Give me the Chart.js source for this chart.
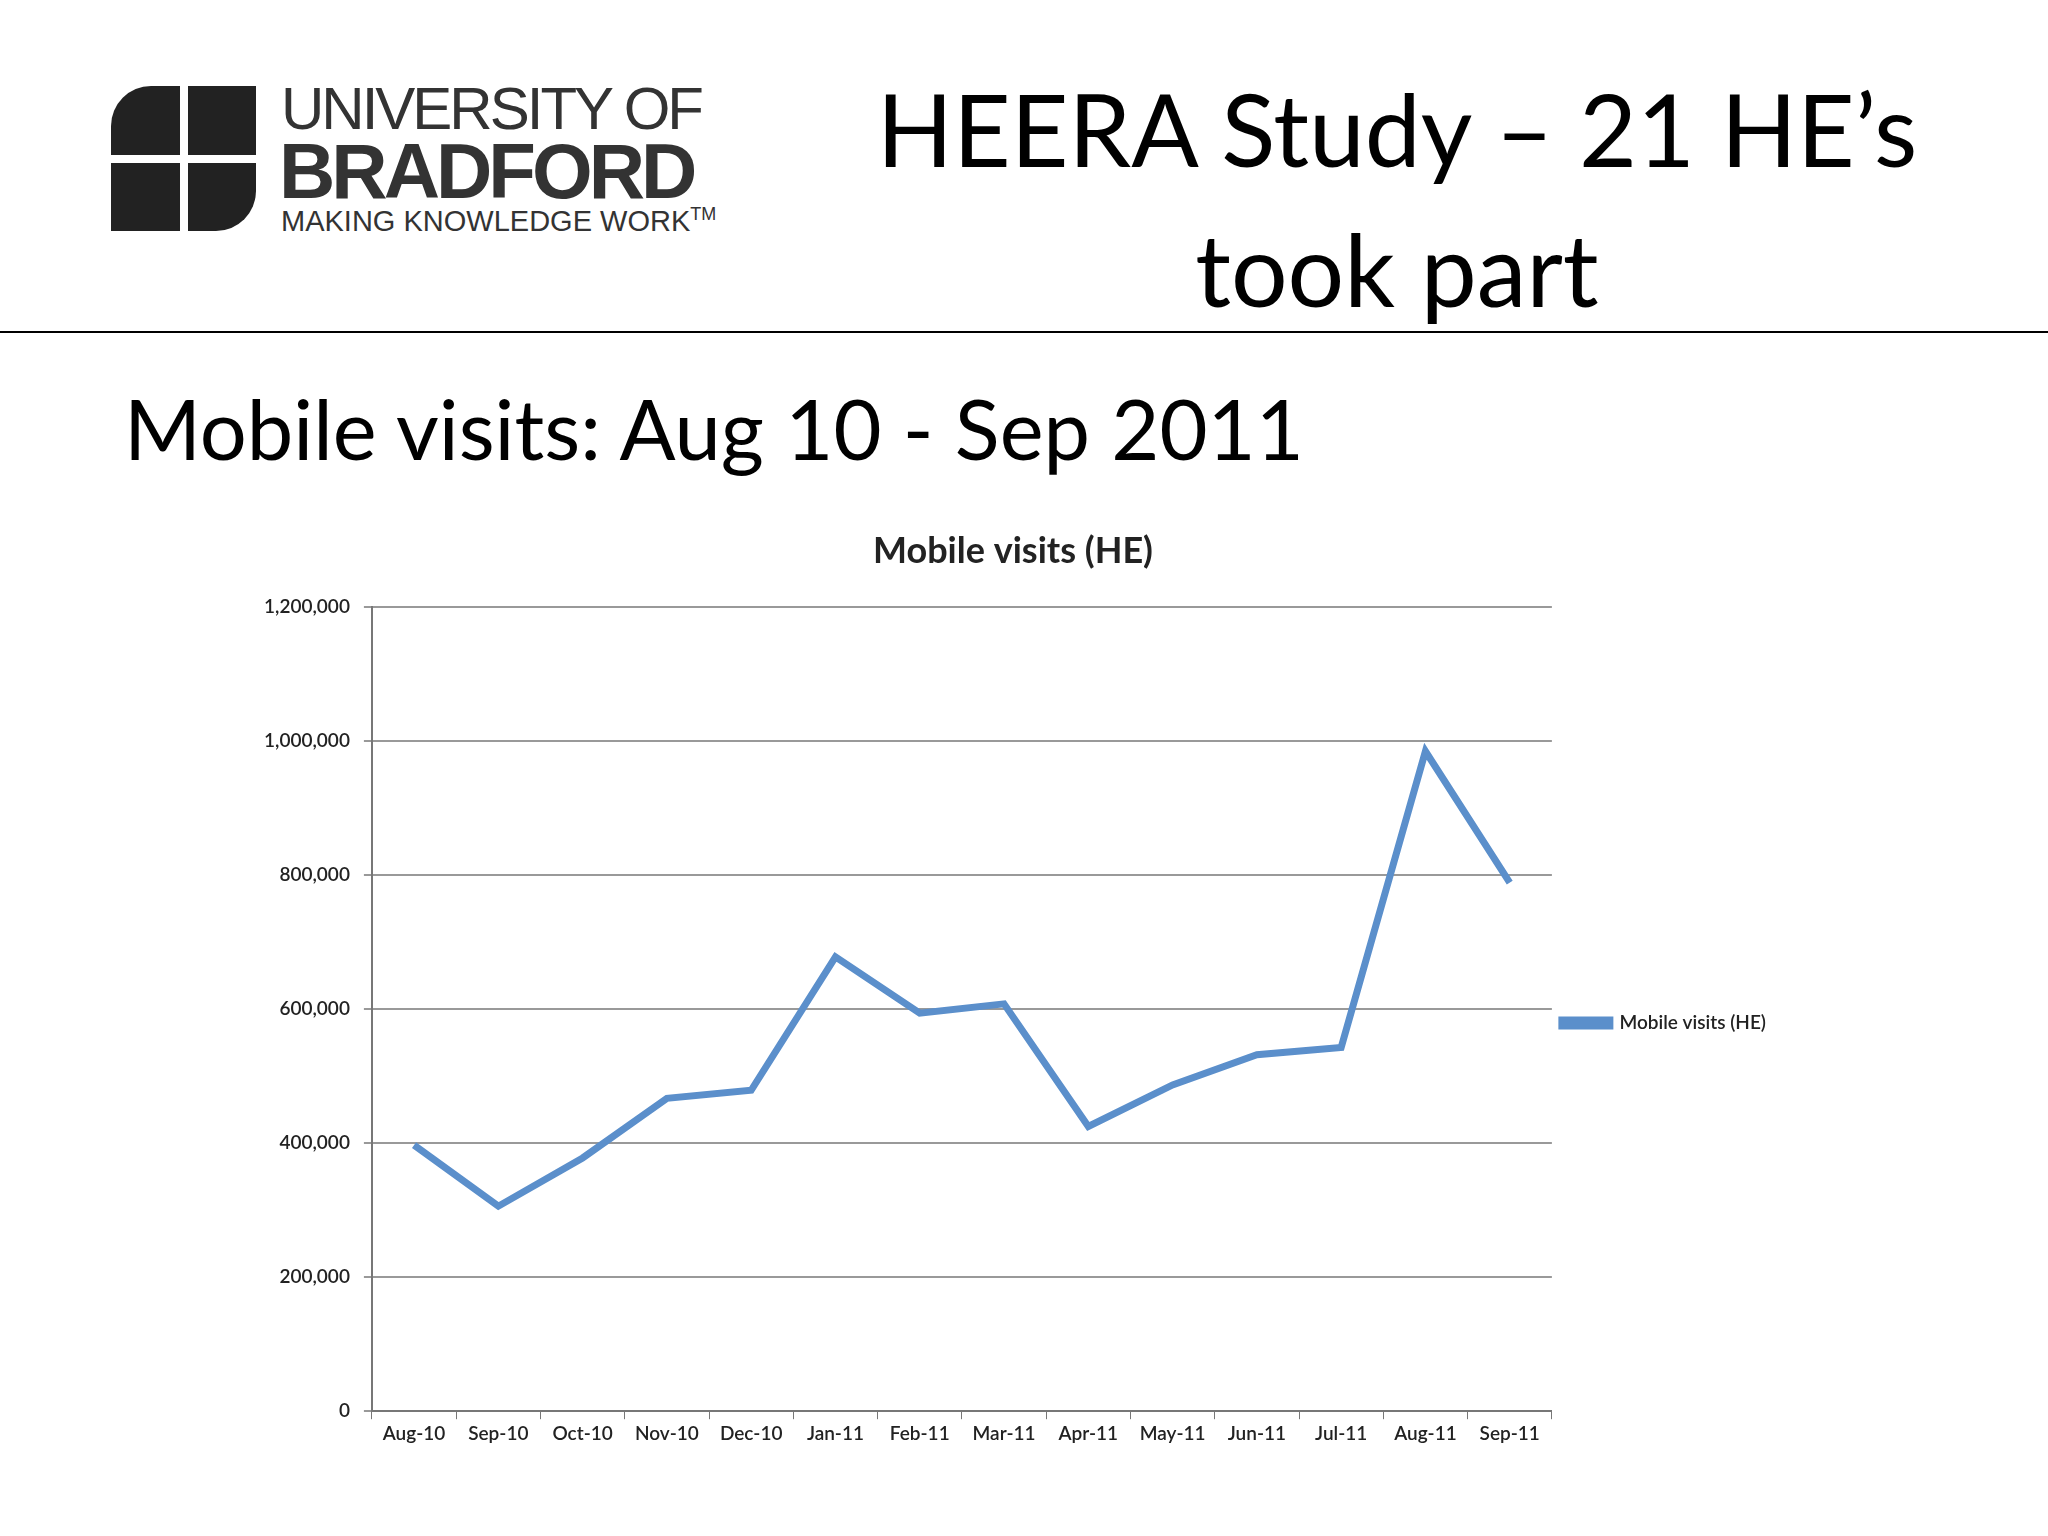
<!DOCTYPE html>
<html><head><meta charset="utf-8">
<script src="https://cdn.jsdelivr.net/npm/chart.js@4/dist/chart.umd.min.js"></script>
<style>
body{margin:0;width:2048px;height:1536px;background:#fff;position:relative;overflow:hidden;font-family:Lato,"Open Sans",sans-serif}
.t{position:absolute;color:#000;white-space:nowrap}
#logo{position:absolute;left:111px;top:80px;width:600px;height:160px}
#wrap{position:absolute;left:250px;top:520px;width:1620px;height:960px}
</style></head><body>
<div id="logo">
  <div style="position:absolute;left:0;top:6px;width:145px;height:145px;display:grid;grid-template-columns:1fr 1fr;gap:8px">
    <div style="background:#222;border-radius:40px 0 0 0"></div><div style="background:#222"></div>
    <div style="background:#222"></div><div style="background:#222;border-radius:0 0 40px 0"></div>
  </div>
  <div class="t" style="left:170px;top:-6px;font-family:'Liberation Sans';font-size:60px;color:#333;letter-spacing:-3px">UNIVERSITY OF</div>
  <div class="t" style="left:168px;top:46px;font-family:'Liberation Sans';font-weight:bold;font-size:78px;color:#333;letter-spacing:-4px">BRADFORD</div>
  <div class="t" style="left:170px;top:124px;font-family:'Liberation Sans';font-size:29px;color:#333">MAKING KNOWLEDGE WORK<sup style="font-size:18px">TM</sup></div>
</div>
<div class="t" style="left:1397px;top:58px;transform:translateX(-50%);font-size:100px;text-align:center;line-height:140px">HEERA Study – 21 HE’s<br>took part</div>
<div style="position:absolute;left:0;top:331px;width:2048px;height:2px;background:#000"></div>
<div class="t" style="left:124px;top:378px;font-size:83px">Mobile visits: Aug 10 - Sep 2011</div>
<div id="wrap"><canvas id="c"></canvas></div>
<script>
const categories=["Aug-10","Sep-10","Oct-10","Nov-10","Dec-10","Jan-11","Feb-11","Mar-11","Apr-11","May-11","Jun-11","Jul-11","Aug-11","Sep-11"];
const mobileVisits=[397000,306000,378000,467000,479000,678000,594000,608000,425000,487000,532000,543000,985000,789000];
const seriesName="Mobile visits (HE)";
new Chart(document.getElementById('c'),{
  type:'line',
  data:{labels:categories,datasets:[{label:seriesName,data:mobileVisits,borderColor:'#5b8fcb',backgroundColor:'#5b8fcb',borderWidth:7,pointRadius:0,tension:0}]},
  options:{responsive:true,maintainAspectRatio:false,animation:false,
    layout:{padding:{top:0,right:94,bottom:32,left:0}},
    plugins:{
      title:{display:true,text:'Mobile visits (HE)',font:{family:'Lato',size:36,weight:'bold'},color:'#222',padding:{top:10,bottom:34}},
      legend:{position:'right',title:{display:true,text:' ',font:{family:'Lato',size:19},padding:{top:0,bottom:55}},
        labels:{boxWidth:48,boxHeight:6,font:{family:'Lato',size:19,weight:'600'},color:'#222',padding:10}}
    },
    scales:{
      x:{offset:true,grid:{display:true,drawOnChartArea:false,offset:true,color:'#777',tickLength:8},border:{color:'#777',width:2},
         ticks:{font:{family:'Lato',size:19,weight:'600'},color:'#222',maxRotation:0,autoSkip:false}},
      y:{min:0,max:1200000,ticks:{stepSize:200000,font:{family:'Lato',size:19,weight:'600'},color:'#222',padding:14,callback:v=>v.toLocaleString('en-US')},
         grid:{color:'#999',lineWidth:2,tickLength:8},border:{color:'#777',width:2}}
    }
  }
});
</script>
</body></html>
